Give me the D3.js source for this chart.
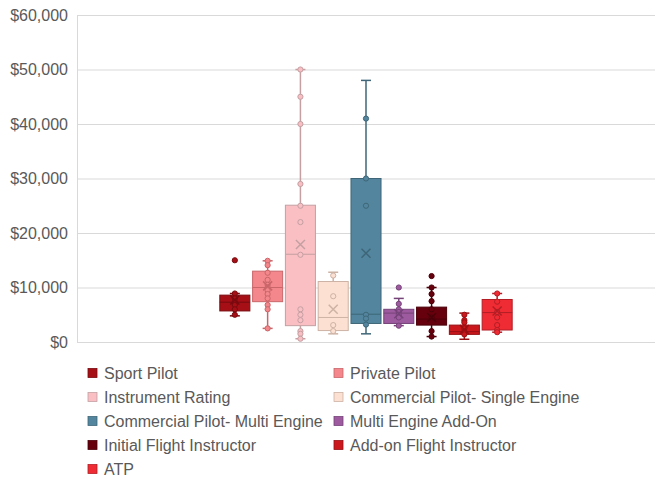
<!DOCTYPE html>
<html>
<head>
<meta charset="utf-8">
<script src="https://cdn.jsdelivr.net/npm/d3@7/dist/d3.min.js"></script>
<style>
  html, body { margin: 0; padding: 0; background: #fff; }
  svg { display: block; font-family: "Liberation Sans", Arial, sans-serif; }
</style>
</head>
<body>
<svg id="chart" width="655" height="480"></svg>
<script>
// ---- data ----
const categories = ["Sport Pilot", "Private Pilot", "Instrument Rating", "Commercial Pilot- Single Engine",
  "Commercial Pilot- Multi Engine", "Multi Engine Add-On", "Initial Flight Instructor", "Add-on Flight Instructor", "ATP"];
const whiskerLow  = [4800, 2500,   600, 1500, 1500, 3000, 1000,  500, 1800];
const q1Values    = [5700, 7400,  3000, 2100, 3400, 3400, 3100, 1400, 2200];
const medianValues= [7300, 10000, 16100, 4500, 5100, 5300, 4200, 1900, 5400];
const q3Values    = [8600, 13000, 25100, 11100, 30000, 6000, 6400, 3100, 7800];
const whiskerHigh = [8900, 14900, 50000, 12800, 48000, 8000, 10000, 5300, 8900];
const meanValues  = [7700, 10300, 17900, 6000, 16300, 5200, 4500, 2300, 5700];
const pointValues = [
  [15000, 8900, 8000, 7300, 6800, 6000, 5000],
  [14900, 14100, 12700, 11400, 10500, 10000, 9500, 8800, 8000, 6800, 6000, 2500],
  [50000, 45000, 40000, 29000, 25000, 22000, 16000, 6000, 5000, 4000, 2000, 1500, 600],
  [12200, 8400, 3100, 2000],
  [41000, 30000, 25000, 5000, 4300, 3200],
  [10000, 7000, 6000, 5500, 5000, 4500, 3000],
  [12100, 10000, 8800, 7500, 6000, 4500, 2000, 1000],
  [5000, 4000, 3600, 2500, 1900, 1400],
  [8900, 7400, 5500, 4500, 3100, 2200, 1800]
];
const fillColors   = ["#A50F15", "#F3878B", "#F9BFC3", "#FCE0D1", "#53869E", "#9D5A9F", "#67000D", "#CB181D", "#EF2B33"];
const strokeColors = ["#780A0F", "#C9666A", "#C4A0A3", "#CDB3A5", "#3E6678", "#764379", "#4A0009", "#960F13", "#B31E25"];
const yTicks = [0, 10000, 20000, 30000, 40000, 50000, 60000];

// ---- layout ----
const svg = d3.select("#chart");
const plot = { left: 77, right: 655, top: 15, bottom: 342 };

const y = d3.scaleLinear().domain([0, 60000]).range([plot.bottom, plot.top]);
const xGroup = d3.scaleBand().domain(["all"]).range([plot.left, plot.right]).padding(0.324);
const x = d3.scaleBand().domain(categories)
  .range([xGroup("all"), xGroup("all") + xGroup.bandwidth()])
  .paddingInner(0.084).paddingOuter(0.042);

// grid + y axis
const yAxis = d3.axisLeft(y).tickValues(yTicks).tickFormat(d3.format("$,"))
  .tickSize(-(plot.right - plot.left)).tickPadding(9);
const gAxis = svg.append("g").attr("transform", `translate(${plot.left},0)`).call(yAxis);
gAxis.select(".domain").attr("stroke", "#d9d9d9");
gAxis.selectAll(".tick line").attr("stroke", "#d9d9d9");
gAxis.selectAll(".tick text").attr("fill", "#595959").attr("font-size", 16)
  .attr("font-family", "'Liberation Sans', Arial, sans-serif");

// boxes
const data = categories.map((c, i) => ({
  name: c, lo: whiskerLow[i], q1: q1Values[i], med: medianValues[i], q3: q3Values[i],
  hi: whiskerHigh[i], mean: meanValues[i], pts: pointValues[i], fill: fillColors[i], stroke: strokeColors[i]
}));

const bw = x.bandwidth();
const capW = 10;
const g = svg.append("g");
data.forEach(d => {
  const cx = x(d.name) + bw / 2;
  const s = g.append("g");
  // whiskers
  s.append("line").attr("x1", cx).attr("x2", cx).attr("y1", y(d.hi)).attr("y2", y(d.q3))
    .attr("stroke", d.stroke).attr("stroke-width", 1.5);
  s.append("line").attr("x1", cx).attr("x2", cx).attr("y1", y(d.q1)).attr("y2", y(d.lo))
    .attr("stroke", d.stroke).attr("stroke-width", 1.5);
  s.append("line").attr("x1", cx - capW / 2).attr("x2", cx + capW / 2).attr("y1", y(d.hi)).attr("y2", y(d.hi))
    .attr("stroke", d.stroke).attr("stroke-width", 1.5);
  s.append("line").attr("x1", cx - capW / 2).attr("x2", cx + capW / 2).attr("y1", y(d.lo)).attr("y2", y(d.lo))
    .attr("stroke", d.stroke).attr("stroke-width", 1.5);
  // box
  s.append("rect").attr("x", x(d.name)).attr("width", bw)
    .attr("y", y(d.q3)).attr("height", y(d.q1) - y(d.q3))
    .attr("fill", d.fill).attr("stroke", d.stroke).attr("stroke-width", 1);
  // median
  s.append("line").attr("x1", x(d.name)).attr("x2", x(d.name) + bw).attr("y1", y(d.med)).attr("y2", y(d.med))
    .attr("stroke", d.stroke).attr("stroke-width", 1);
  // points
  s.selectAll("circle").data(d.pts).join("circle")
    .attr("cx", cx).attr("cy", v => y(v)).attr("r", 2.6)
    .attr("fill", d.fill).attr("stroke", d.stroke).attr("stroke-width", 1);
  // mean marker
  const my = y(d.mean), m = 4.5;
  s.append("path").attr("d", `M${cx - m},${my - m}L${cx + m},${my + m}M${cx - m},${my + m}L${cx + m},${my - m}`)
    .attr("stroke", d.stroke).attr("stroke-width", 1.5).attr("fill", "none");
});

// legend
const legend = svg.append("g");
const colX = [88, 334], rowY0 = 373, rowH = 24;
data.forEach((d, i) => {
  const col = i % 2, row = Math.floor(i / 2);
  const lg = legend.append("g").attr("transform", `translate(${colX[col]},${rowY0 + row * rowH})`);
  lg.append("rect").attr("x", 0).attr("y", -4.5).attr("width", 9).attr("height", 9)
    .attr("fill", d.fill).attr("stroke", d.stroke).attr("stroke-width", 0.8);
  lg.append("text").attr("x", 16).attr("y", 0).attr("dy", "0.35em")
    .attr("font-size", 16).attr("fill", "#595959").text(d.name);
});
</script>
</body>
</html>
